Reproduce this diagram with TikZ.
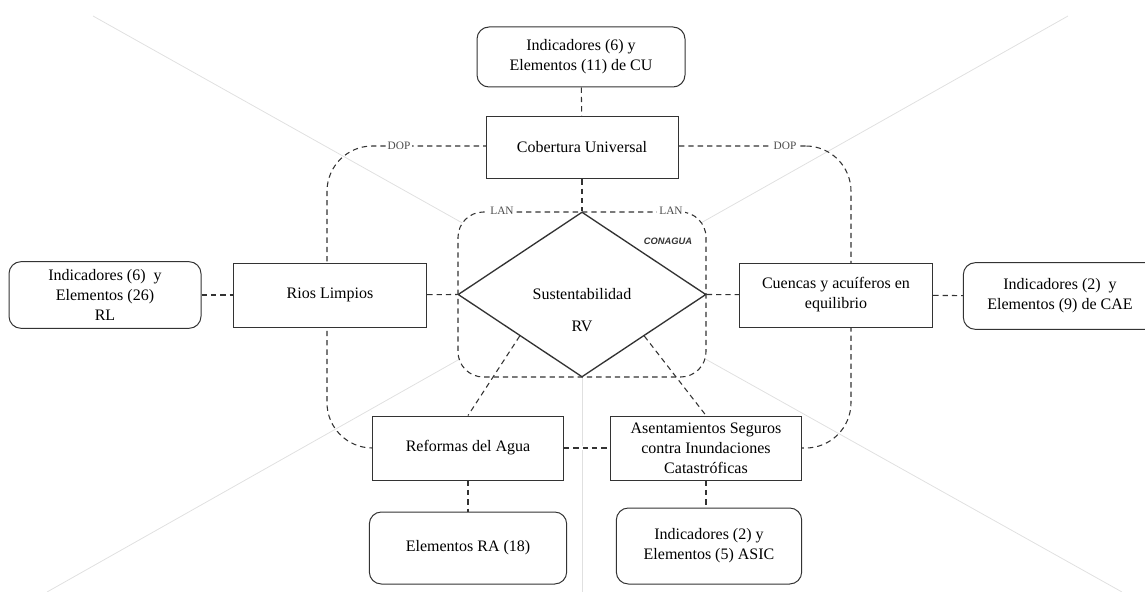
\documentclass[tikz,border=0pt]{standalone}
\usepackage{fontspec}
\setmainfont{Liberation Serif}
\setsansfont{Liberation Sans}
\newfontfamily\textocaja{Liberation Serif}
\usetikzlibrary{shapes.geometric}

\tikzset{
    caja/.style={draw=black!80, line width=0.75pt, fill=white, inner sep=0pt, align=center, text=black, font=\textocaja\fontsize{12}{15}\selectfont},
    tarjeta/.style={caja, rounded corners=9pt},
    enlace/.style={draw=black!80, line width=0.8pt, dash pattern=on 4pt off 3pt},
    tapado/.style={enlace, preaction={draw=white, solid, line width=2.5pt}},
    marco/.style={enlace, inner sep=0pt},
    guia/.style={draw=black!12, line width=0.6pt},
    sigla/.style={fill=white, inner sep=1.5pt, text=black!70, font=\textocaja\fontsize{8.5}{10}\selectfont}
}

\begin{document}
\begin{tikzpicture}[x=0.75pt, y=-0.75pt]
    \useasboundingbox (0,0) rectangle (1145,592);

    \coordinate (centro) at (582,290);
    \draw[guia] (centro) -- (93,16);
    \draw[guia] (centro) -- (1068,16);
    \draw[guia] (centro) -- (47,592);
    \draw[guia] (centro) -- (1122,592);
    \draw[guia] (centro) -- (582,592);

    \node[marco, rounded corners=34pt, minimum width=393pt, minimum height=226.5pt] (dop) at (589,297) {};
    \node[marco, fill=white, rounded corners=19pt, minimum width=186pt, minimum height=123.75pt] (lan) at (582,294.5) {};
    \node[diamond, draw=black!80, line width=1pt, fill=white, inner sep=0pt, minimum width=186pt, minimum height=123.75pt] (sus) at (582,294.5) {};
    \node[caja, draw=none, fill=none] (sustxt) at ([yshift=-12pt]sus) {Sustentabilidad\\[9pt]RV};

    \node[sigla] (dopa) at (399,146) {DOP};
    \node[sigla] (dopb) at (785,146) {DOP};
    \node[sigla] (lana) at (502,211) {LAN};
    \node[sigla] (lanb) at (671,211) {LAN};
    \node[text=black!80, font=\sffamily\bfseries\itshape\fontsize{7}{8}\selectfont] (conagua) at (668,241) {CONAGUA};

    \node[tarjeta, minimum width=156pt, minimum height=45pt] (icu) at (581,57) {Indicadores (6) y\\Elementos (11) de CU};
    \node[caja, minimum width=144pt, minimum height=47pt] (cu) at (582,147.5) {Cobertura Universal};

    \node[tarjeta, minimum width=144pt, minimum height=50pt] (irl) at (105,295) {Indicadores (6)\ \ y\\Elementos (26)\\RL};
    \node[caja, minimum width=145pt, minimum height=48pt] (rl) at (330,295) {Rios Limpios};

    \node[caja, minimum width=145pt, minimum height=48pt] (cae) at (836,295) {Cuencas y acuíferos en\\equilibrio};
    \node[tarjeta, minimum width=145pt, minimum height=50pt] (icae) at (1060,296) {Indicadores (2)\ \ y\\Elementos (9) de CAE};

    \node[caja, minimum width=143pt, minimum height=48pt] (ra) at (468,448) {Reformas del Agua};
    \node[caja, minimum width=143pt, minimum height=48pt] (asic) at (706,448) {Asentamientos Seguros\\contra Inundaciones\\Catastróficas};
    \node[tarjeta, minimum width=148pt, minimum height=54pt] (era) at (468,548) {Elementos RA (18)};
    \node[tarjeta, minimum width=139pt, minimum height=57pt] (iasic) at (709,546) {Indicadores (2) y\\Elementos (5) ASIC};

    \draw[enlace] (icu) -- (cu);
    \draw[enlace] (cu) -- (sus.north);
    \draw[enlace] (irl) -- (rl);
    \draw[enlace] (rl) -- (sus.west);
    \draw[enlace] (sus.east) -- (cae);
    \draw[enlace] (cae) -- (icae);
    \draw[enlace] (sus.south west) -- (ra.north);
    \draw[enlace] (sus.south east) -- (asic.north);
    \draw[tapado] (ra) -- (asic);
    \draw[enlace] (ra) -- (era);
    \draw[enlace] (asic.south) -- (asic.south |- iasic.north);
\end{tikzpicture}
\end{document}
